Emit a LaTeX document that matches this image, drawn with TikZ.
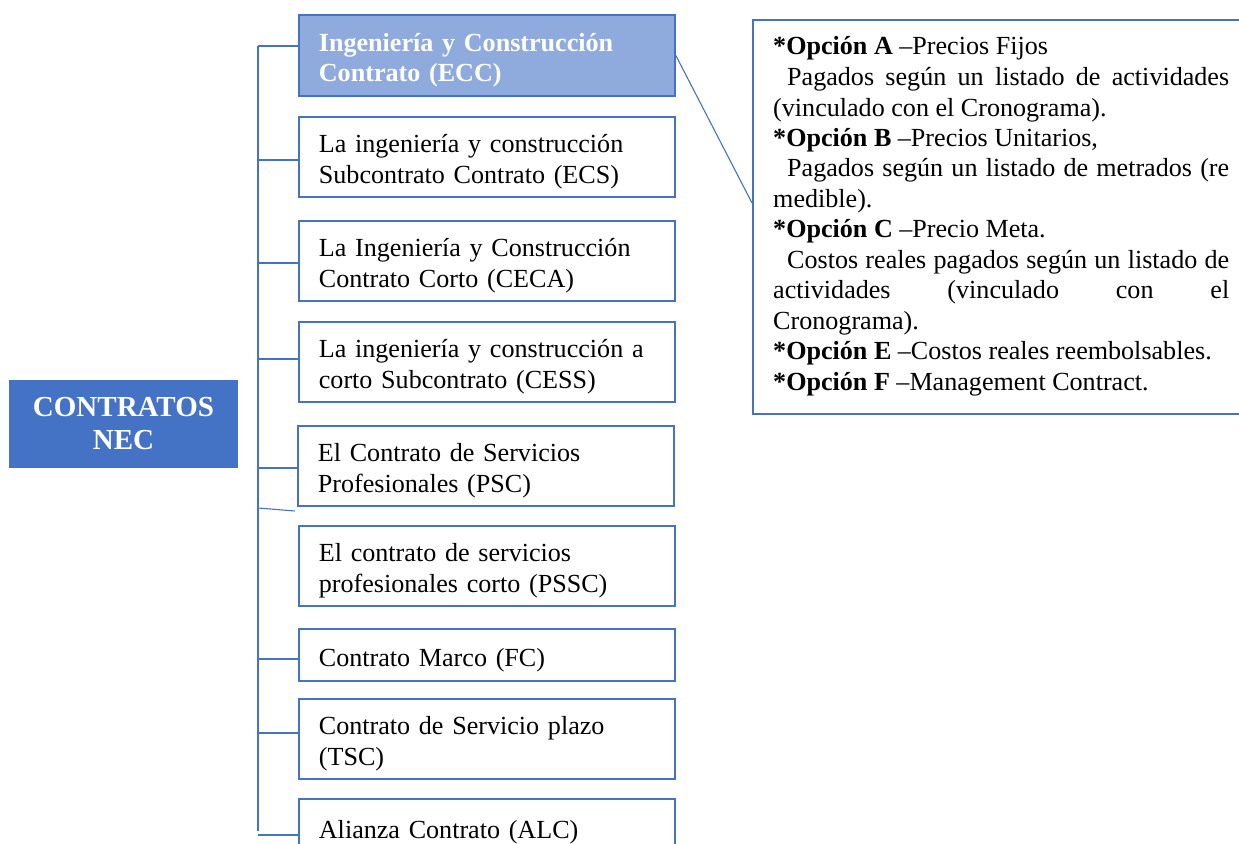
\documentclass[tikz,border=0pt]{standalone}
\usepackage{fontspec}
\setmainfont{Liberation Serif}
\definecolor{nblue}{HTML}{4472C4}
\definecolor{lblue}{HTML}{8FAADC}
\begin{document}
\begin{tikzpicture}[x=1pt,y=-1pt,
  box/.style={draw=nblue, line width=1.8pt, minimum width=376pt, minimum height=80pt,
    text width=336pt, inner xsep=20pt, inner ysep=0pt, align=left, anchor=north west,
    font=\fontsize{26.1}{30.5}\selectfont, execute at begin node={\rule{0pt}{28pt}}},
  link/.style={draw=nblue, line width=1.1pt},
  optline/.style={anchor=base west, inner sep=0pt, font=\fontsize{26.1}{30.5}\selectfont}]
\useasboundingbox (0,0) rectangle (1239,843);
\clip (0,0) rectangle (1239,843);

% root
\node[fill=nblue, minimum width=229pt, minimum height=88pt, align=center, text=white,
  font=\fontsize{29}{33}\selectfont\bfseries, inner sep=0pt,
  execute at begin node={\rule{0pt}{25pt}}] (root) at (123.5,424) {CONTRATOS\\NEC};

% contract boxes
\node[box, fill=lblue, text=white, minimum height=81pt, font=\fontsize{26.1}{30.5}\selectfont\bfseries] (ecc) at (298,14) {Ingeniería y Construcción\\Contrato (ECC)};
\node[box] (ecs) at (298,116) {La ingeniería y construcción\\Subcontrato Contrato (ECS)};
\node[box] (ceca) at (298,220) {La Ingeniería y Construcción\\Contrato Corto (CECA)};
\node[box] (cess) at (298,321) {La ingeniería y construcción a\\corto Subcontrato (CESS)};
\node[box] (psc) at (297,425) {El Contrato de Servicios\\Profesionales (PSC)};
\node[box] (pssc) at (298,525) {El contrato de servicios\\profesionales corto (PSSC)};
\node[box, minimum height=52pt] (fc) at (298,628) {Contrato Marco (FC)};
\node[box] (tsc) at (298,698) {Contrato de Servicio plazo\\(TSC)};
\node[box, minimum height=56pt] (alc) at (298,798) {Alianza Contrato (ALC)};

% bracket
\coordinate (btop) at (258,46);
\coordinate (bbot) at (258,831);
\draw[link] (btop) -- (bbot);
\foreach \n/\y in {ecc/46, ecs/160, ceca/263, cess/359, psc/468, fc/659, tsc/733, alc/835}{
  \coordinate (t\n) at (258,\y);
  \draw[link] (t\n) -- (t\n -| \n.west);
}
\coordinate (ts) at (258,508);
\coordinate (tse) at (295,511);
\draw[link] (ts) -- (tse);

% callout
\node[draw=nblue, line width=1.8pt, minimum width=520pt, minimum height=394pt,
  anchor=north west, inner sep=0pt] (optbox) at (752,19) {};
\coordinate (oc) at (752,203);
\draw[link] (ecc.east) -- (oc);

\node[optline] (o1) at (773,55) {\textbf{*Opción A }–Precios Fijos};
\node[optline] (o2) at (773,85.5) {\makebox[456pt][s]{\hspace*{14pt}Pagados según un listado de actividades}};
\node[optline] (o3) at (773,116) {(vinculado con el Cronograma).};
\node[optline] (o4) at (773,146.3) {\textbf{*Opción B }–Precios Unitarios,};
\node[optline] (o5) at (773,176.8) {\makebox[456pt][s]{\hspace*{14pt}Pagados según un listado de metrados (re}};
\node[optline] (o6) at (773,207.3) {medible).};
\node[optline] (o7) at (773,237.7) {\textbf{*Opción C }–Precio Meta.};
\node[optline] (o8) at (773,268.2) {\makebox[456pt][s]{\hspace*{14pt}Costos reales pagados según un listado de}};
\node[optline] (o9) at (773,298.6) {\makebox[456pt][s]{actividades (vinculado con el}};
\node[optline] (o10) at (773,329) {Cronograma).};
\node[optline] (o11) at (773,359.5) {\textbf{*Opción E }–Costos reales reembolsables.};
\node[optline] (o12) at (773,390) {\textbf{*Opción F }–Management Contract.};
\end{tikzpicture}
\end{document}
